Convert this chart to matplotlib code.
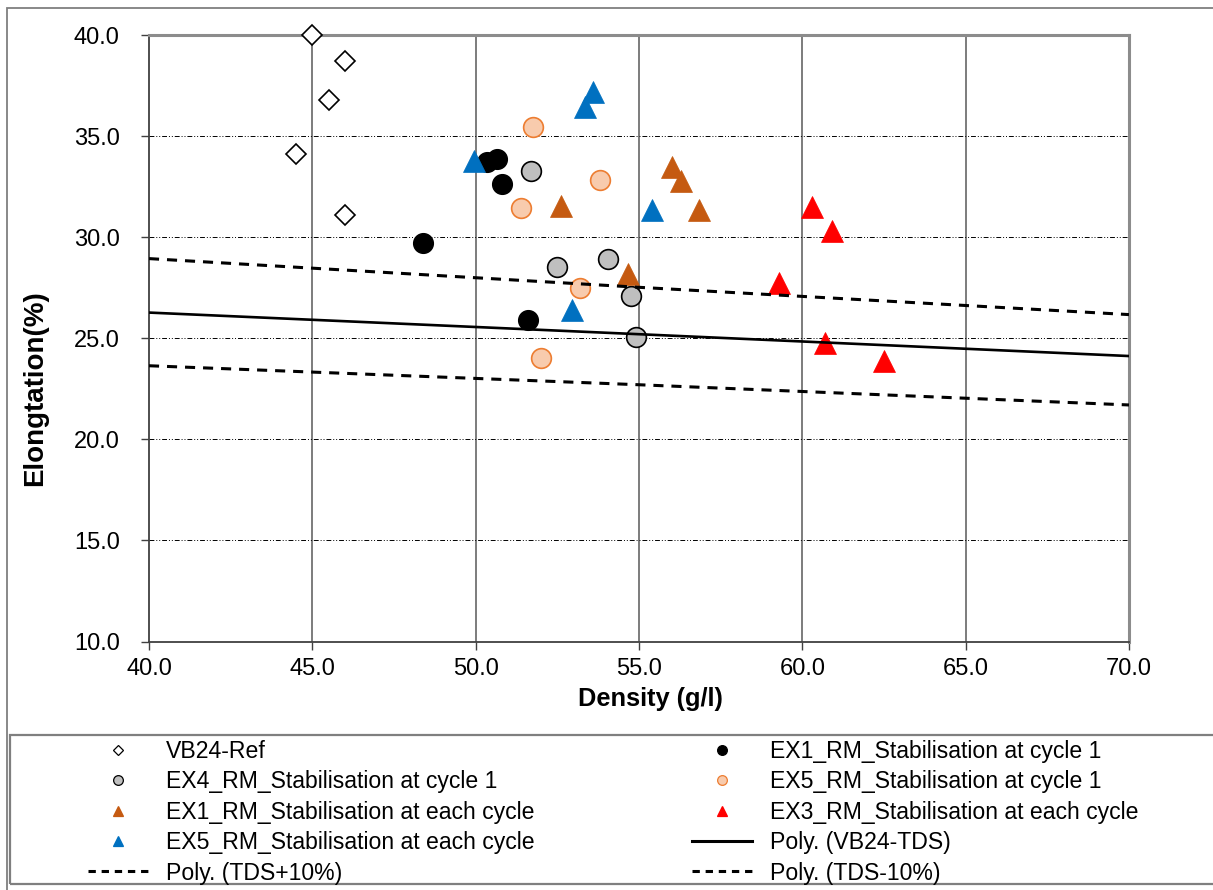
import matplotlib
matplotlib.use("Agg")
import matplotlib.pyplot as plt
from matplotlib.patches import Rectangle
from matplotlib.lines import Line2D

plt.rcParams['font.family'] = ['Liberation Sans', 'DejaVu Sans']

# ---------------- data ----------------
vb24_x = [45.0, 46.0, 45.5, 44.5, 46.0]
vb24_y = [40.0, 38.7, 36.8, 34.1, 31.1]

ex1c1_x = [50.35, 50.65, 50.8, 48.4, 51.6]
ex1c1_y = [33.7, 33.85, 32.65, 29.7, 25.9]

ex4c1_x = [51.7, 52.5, 54.05, 54.75, 54.9]
ex4c1_y = [33.25, 28.5, 28.9, 27.1, 25.05]

ex5c1_x = [51.75, 53.8, 51.4, 53.2, 52.0]
ex5c1_y = [35.45, 32.85, 31.45, 27.5, 24.0]

ex1each_x = [52.6, 56.0, 56.3, 56.85, 54.65]
ex1each_y = [31.55, 33.45, 32.8, 31.35, 28.2]

ex3each_x = [60.3, 60.9, 59.3, 60.7, 62.5]
ex3each_y = [31.5, 30.3, 27.75, 24.75, 23.85]

ex5each_x = [53.6, 53.35, 49.95, 55.4, 52.95]
ex5each_y = [37.2, 36.45, 33.75, 31.35, 26.4]

trend_x = [40.0, 55.0, 70.0]
tds_y = [26.27, 25.2, 24.12]
tds_plus_y = [28.94, 27.52, 26.17]
tds_minus_y = [23.64, 22.7, 21.7]

x_ticks = [40.0, 45.0, 50.0, 55.0, 60.0, 65.0, 70.0]
y_ticks = [10.0, 15.0, 20.0, 25.0, 30.0, 35.0, 40.0]

labels = ["VB24-Ref", "EX1_RM_Stabilisation at cycle 1",
          "EX4_RM_Stabilisation at cycle 1", "EX5_RM_Stabilisation at cycle 1",
          "EX1_RM_Stabilisation at each cycle", "EX3_RM_Stabilisation at each cycle",
          "EX5_RM_Stabilisation at each cycle", "Poly. (VB24-TDS)",
          "Poly. (TDS+10%)", "Poly. (TDS-10%)"]

# ---------------- figure ----------------
W, H = 1213, 890
fig = plt.figure(figsize=(W / 100, H / 100), dpi=100)
ax = fig.add_axes([149 / W, 1 - 641.5 / H, (1129 - 149) / W, (641.5 - 35) / H])

# outer frame & legend frame
fig.patches.append(Rectangle((7 / W, 1 - 1000 / H), 1400 / W, (1000 - 8) / H,
                             transform=fig.transFigure, fill=False,
                             edgecolor='#7f7f7f', lw=1.3, zorder=0))
fig.patches.append(Rectangle((9.5 / W, 1 - 884 / H), 1400 / W, (884 - 735) / H,
                             transform=fig.transFigure, fill=False,
                             edgecolor='#7f7f7f', lw=1.6, zorder=0))

ax.set_xlim(40, 70)
ax.set_ylim(10, 40)
ax.set_xticks(x_ticks)
ax.set_yticks(y_ticks)
ax.set_xticklabels([f"{v:.1f}" for v in x_ticks])
ax.set_yticklabels([f"{v:.1f}" for v in y_ticks])
ax.tick_params(axis='both', direction='out', labelsize=17, colors='#000000')
ax.tick_params(axis='y', length=6, width=1, pad=15, color='#404040')
ax.tick_params(axis='x', length=6, width=1, pad=6, color='#404040')

for v in x_ticks[1:-1]:
    ax.axvline(v, color='#595959', lw=1.1, zorder=1)
for v in y_ticks[1:-1]:
    ax.axhline(v, color='#000000', lw=0.7, dashes=(5, 2, 1, 2, 1, 2), zorder=1)

ax.spines['top'].set_color('#8c8c8c')
ax.spines['top'].set_linewidth(2.2)
ax.spines['right'].set_color('#8c8c8c')
ax.spines['right'].set_linewidth(2.2)
ax.spines['left'].set_color('#404040')
ax.spines['left'].set_linewidth(1.3)
ax.spines['bottom'].set_color('#404040')
ax.spines['bottom'].set_linewidth(1.3)

xl = ax.set_xlabel("Density (g/l)", fontsize=18.3, fontweight='bold')
ax.xaxis.set_label_coords((650 - 149) / 980, -(699 - 641.5) / 606.5)
xl.set_va('center')
yl = ax.set_ylabel("Elongtation(%)", fontsize=20, fontweight='bold')
ax.yaxis.set_label_coords((35 - 149) / 980, (641.5 - 388) / 606.5)
yl.set_va('center')

ms_c = 14.2
ms_t = 15.5
h_vb = ax.plot(vb24_x, vb24_y, ls='none', marker='D', ms=10, mfc='white',
               mec='black', mew=1.2, zorder=3, clip_on=False)[0]
h1 = ax.plot(ex1c1_x, ex1c1_y, ls='none', marker='o', ms=ms_c, mfc='black',
             mec='black', mew=1, zorder=3)[0]
h4 = ax.plot(ex4c1_x, ex4c1_y, ls='none', marker='o', ms=ms_c, mfc='#bfbfbf',
             mec='black', mew=1.2, zorder=3)[0]
h5 = ax.plot(ex5c1_x, ex5c1_y, ls='none', marker='o', ms=ms_c, mfc='#f8cbad',
             mec='#ed7d31', mew=1.2, zorder=3)[0]
h1e = ax.plot(ex1each_x, ex1each_y, ls='none', marker='^', ms=ms_t, mfc='#c55a11',
              mec='#c55a11', mew=0.5, zorder=3)[0]
h3e = ax.plot(ex3each_x, ex3each_y, ls='none', marker='^', ms=ms_t, mfc='#ff0000',
              mec='#ff0000', mew=0.5, zorder=3)[0]
h5e = ax.plot(ex5each_x, ex5each_y, ls='none', marker='^', ms=ms_t, mfc='#0070c0',
              mec='#0070c0', mew=0.5, zorder=3)[0]
ht = ax.plot(trend_x, tds_y, color='black', lw=1.9, zorder=4)[0]
htp = ax.plot(trend_x, tds_plus_y, color='black', lw=2.2, dashes=(3.3, 2.6), zorder=4)[0]
htm = ax.plot(trend_x, tds_minus_y, color='black', lw=2.2, dashes=(3.3, 2.6), zorder=4)[0]

# legend handles (small markers)
def mk(marker, mfc, mec, ms):
    return Line2D([], [], ls='none', marker=marker, ms=ms, mfc=mfc, mec=mec, mew=0.9)

lh = [mk('D', 'white', 'black', 5.5),
      mk('o', 'black', 'black', 7),
      mk('o', '#bfbfbf', 'black', 7),
      mk('o', '#f8cbad', '#ed7d31', 7),
      mk('^', '#c55a11', '#c55a11', 7.5),
      mk('^', '#ff0000', '#ff0000', 7.5),
      mk('^', '#0070c0', '#0070c0', 7.5),
      Line2D([], [], color='black', lw=2.2),
      Line2D([], [], color='black', lw=2.2, dashes=(2.4, 1.9)),
      Line2D([], [], color='black', lw=2.2, dashes=(2.4, 1.9))]

order = [0, 2, 4, 6, 8, 1, 3, 5, 7, 9]
leg = fig.legend([lh[i] for i in order], [labels[i] for i in order],
                 ncol=2, loc='upper left', bbox_to_anchor=(88 / W, 1 - 740 / H),
                 frameon=False, fontsize=16.6, handlelength=2.6, handletextpad=0.78,
                 columnspacing=6.85, labelspacing=0.32, borderaxespad=0,
                 borderpad=0)

fig.savefig("out.png", dpi=100)
